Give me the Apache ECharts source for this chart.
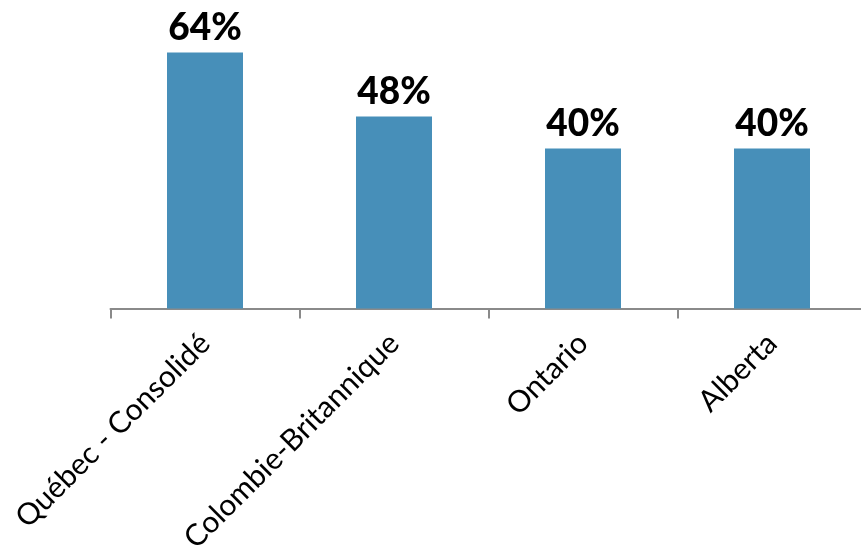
<!DOCTYPE html>
<html>
<head>
<meta charset="utf-8">
<script src="https://cdn.jsdelivr.net/npm/echarts@6/dist/echarts.min.js"></script>
<style>
  html, body { margin: 0; padding: 0; background: #fff; }
  #chart { width: 861px; height: 547px; }
</style>
</head>
<body>
<div id="chart"></div>
<script>
// données
var categories = ['Québec - Consolidé', 'Colombie-Britannique', 'Ontario', 'Alberta'];
var values = [64, 48, 40, 40];

var chart = echarts.init(document.getElementById('chart'));

var option = {
  animation: false,
  grid: { left: 110.5, width: 756, top: 8.5, height: 300, outerBoundsMode: 'none' },
  xAxis: {
    type: 'category',
    data: categories,
    axisLine: { lineStyle: { color: '#8a8a8a', width: 2 } },
    axisTick: { show: true, length: 10, lineStyle: { color: '#8a8a8a', width: 2 } },
    axisLabel: {
      rotate: 45,
      interval: 0,
      margin: 30,
      color: '#000',
      fontSize: 30,
      fontFamily: 'Lato'
    }
  },
  yAxis: {
    type: 'value',
    min: 0,
    max: 75,
    show: false,
    splitLine: { show: false }
  },
  series: [{
    type: 'bar',
    data: values,
    barWidth: 76,
    itemStyle: { color: '#478fb9' },
    label: {
      show: true,
      position: 'top',
      distance: 6,
      formatter: '{c}%',
      color: '#000',
      fontSize: 37,
      fontWeight: 900,
      fontFamily: 'Lato'
    }
  }]
};

chart.setOption(option);
</script>
</body>
</html>
